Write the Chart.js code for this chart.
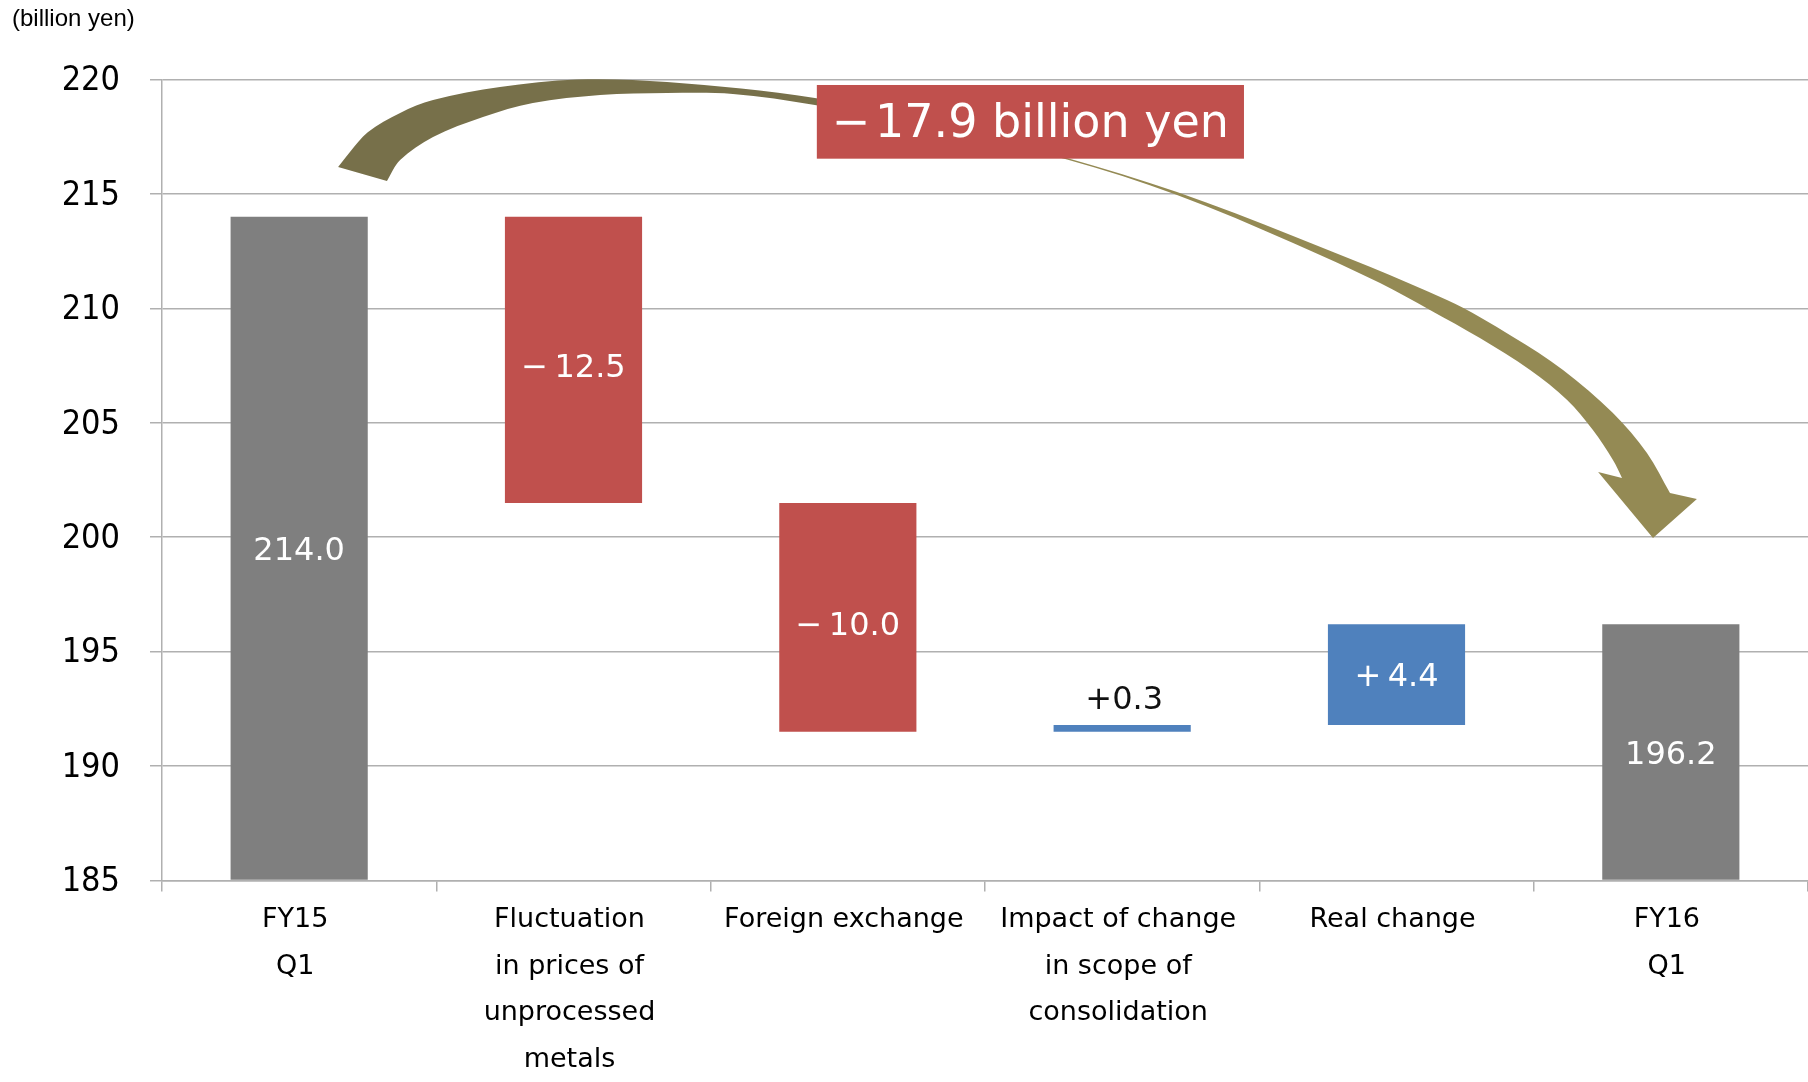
<!DOCTYPE html>
<html><head><meta charset="utf-8">
<script src="https://cdn.jsdelivr.net/npm/chart.js@4.4.1/dist/chart.umd.min.js"></script>
<style>html,body{margin:0;padding:0;background:#fff;}canvas{display:block;}</style>
</head><body>
<canvas id="c" width="1808" height="1082"></canvas>
<script>
// ---- data ----
const categories = [["FY15","Q1"],["Fluctuation","in prices of","unprocessed","metals"],["Foreign exchange"],["Impact of change","in scope of","consolidation"],["Real change"],["FY16","Q1"]];
const barBottoms = [null, 201.5, 191.5, 191.5, 191.8, null];   // null = total bar from axis base
const barTops    = [214.0, 214.0, 201.5, 191.8, 196.2, 196.2];
const valueLabels = ["214.0", "\u2212\u200912.5", "\u2212\u200910.0", "+0.3", "+\u20094.4", "196.2"];
const yMin = 185, yMax = 220, yStep = 5;
const unitLabel = "(billion yen)";
const totalChangeLabel = "\u2212\u200A17.9 billion yen";

// ---- styles ----
const barColors = ["#7f7f7f","#c0504d","#c0504d","#4f81bd","#4f81bd","#7f7f7f"];
const gridColor = "#b0b0b0";

// arrow geometry in data space [category position, value]
const arrowOuter = [[0.142,216.18],[0.188,216.88],[0.250,217.70],[0.368,218.54],[0.488,219.10],[0.732,219.67],[1.013,220.0],[1.341,219.89],[1.880,219.19],[2.336,218.01],[2.799,216.57],[3.200,215.08],[3.623,213.16],[4.184,210.36],[4.425,208.75],[4.607,207.31],[4.789,205.43],[4.913,203.68],[4.997,201.93]];
const arrowHead = [[5.095,201.67],[4.935,199.97],[4.735,202.85],[4.822,202.59]];
const arrowInner = [[4.822,202.59],[4.789,203.37],[4.716,204.68],[4.622,206.00],[4.487,207.31],[4.304,208.70],[4.122,209.93],[3.940,211.11],[3.623,212.86],[3.200,214.95],[2.799,216.50],[2.336,217.84],[1.880,218.89],[1.581,219.37],[1.341,219.41],[1.097,219.32],[0.852,218.97],[0.670,218.36],[0.488,217.49],[0.368,216.48],[0.320,215.56]];
const boxArea = {x0:1.887, x1:3.444, yTop:219.76, yBottom:216.54};

const barData = barTops.map((t,i)=> barBottoms[i]===null ? t : [barBottoms[i], t]);

// smooth curve through points with length-scaled tangents
function smooth(ctx, pts, move){
  const n = pts.length;
  const d = (a,b)=>Math.hypot(b[0]-a[0], b[1]-a[1]);
  const T = pts.map((p,i)=>{
    if (i===0){ const l=d(pts[0],pts[1]); return [(pts[1][0]-pts[0][0])/l,(pts[1][1]-pts[0][1])/l]; }
    if (i===n-1){ const l=d(pts[n-2],pts[n-1]); return [(pts[n-1][0]-pts[n-2][0])/l,(pts[n-1][1]-pts[n-2][1])/l]; }
    const l = d(pts[i-1],p)+d(p,pts[i+1]);
    return [(pts[i+1][0]-pts[i-1][0])/l,(pts[i+1][1]-pts[i-1][1])/l];
  });
  if (move) ctx.moveTo(pts[0][0], pts[0][1]); else ctx.lineTo(pts[0][0], pts[0][1]);
  for (let i=0;i<n-1;i++){
    const p1=pts[i], p2=pts[i+1], l=d(p1,p2)/3;
    ctx.bezierCurveTo(p1[0]+T[i][0]*l, p1[1]+T[i][1]*l, p2[0]-T[i+1][0]*l, p2[1]-T[i+1][1]*l, p2[0], p2[1]);
  }
}

const labelPlugin = {
  id:'valueLabels',
  afterDatasetsDraw(chart){
    const {ctx, scales:{x,y}} = chart;
    ctx.save();
    ctx.font = '32px "DejaVu Sans", sans-serif';
    ctx.textAlign='center'; ctx.textBaseline='middle';
    barTops.forEach((top,i)=>{
      const low = barBottoms[i]===null ? yMin : barBottoms[i];
      const cx = x.getPixelForValue(i);
      if (top-low < 1){
        ctx.fillStyle='#111';
        ctx.fillText(valueLabels[i], cx+2, y.getPixelForValue(top)-24);
      } else {
        const extra = valueLabels[i].startsWith('\u2212') ? 6 : 0;
        ctx.fillStyle='#fff';
        ctx.fillText(valueLabels[i], cx, y.getPixelForValue((top+low)/2)+3+extra);
      }
    });
    ctx.restore();
  }
};

const decoPlugin = {
  id:'deco',
  afterDraw(chart){
    const {ctx, scales:{x,y}} = chart;
    const P = p => [x.getPixelForValue(p[0]), y.getPixelForValue(p[1])];
    ctx.save();
    // arrow
    const outer = arrowOuter.map(P), inner = arrowInner.map(P), head = arrowHead.map(P);
    const g = ctx.createLinearGradient(x.getPixelForValue(1.9),0,x.getPixelForValue(2.8),0);
    g.addColorStop(0,'#77704a'); g.addColorStop(1,'#948a54');
    ctx.beginPath();
    smooth(ctx, outer, true);
    head.forEach(p=>ctx.lineTo(p[0],p[1]));
    smooth(ctx, inner, false);
    ctx.closePath();
    ctx.fillStyle = g; ctx.fill();
    // box
    const bx0 = x.getPixelForValue(boxArea.x0), bx1 = x.getPixelForValue(boxArea.x1);
    const by0 = y.getPixelForValue(boxArea.yTop), by1 = y.getPixelForValue(boxArea.yBottom);
    ctx.fillStyle = '#c0504d';
    ctx.fillRect(bx0, by0, bx1-bx0, by1-by0);
    ctx.fillStyle = '#fff';
    ctx.font = '46px "DejaVu Sans", sans-serif';
    ctx.textAlign='center'; ctx.textBaseline='middle';
    ctx.fillText(totalChangeLabel, (bx0+bx1)/2, (by0+by1)/2+3);
    // unit label
    ctx.fillStyle = '#000';
    ctx.font = '24px "Liberation Sans", Arial, sans-serif';
    ctx.textAlign='left'; ctx.textBaseline='middle';
    ctx.fillText(unitLabel, 12, 19);
    ctx.restore();
  }
};

new Chart(document.getElementById('c').getContext('2d'), {
  type:'bar',
  data:{labels:categories, datasets:[{data:barData, backgroundColor:barColors, borderWidth:0,
        barPercentage:1, categoryPercentage:0.5, base:yMin}]},
  options:{
    responsive:false, animation:false, devicePixelRatio:1,
    layout:{padding:{top:79.5, right:0, left:0, bottom:0}},
    plugins:{legend:{display:false}, tooltip:{enabled:false}},
    scales:{
      x:{
        grid:{display:true, drawOnChartArea:false, drawTicks:true, tickLength:11, color:gridColor, lineWidth:1.5, offset:true},
        border:{display:true, color:gridColor, width:1.5},
        ticks:{font:{family:'"DejaVu Sans", sans-serif', size:27, lineHeight:1.73}, color:'#000', padding:5, maxRotation:0, autoSkip:false, labelOffset:-4},
        afterFit(s){ s.height = 201.5; }
      },
      y:{
        min:yMin, max:yMax,
        ticks:{stepSize:yStep, font:{family:'"DejaVu Sans Condensed", "Open Sans", sans-serif', size:34}, color:'#000', padding:30, labelOffset:2},
        grid:{color:gridColor, lineWidth:1.5, tickLength:12},
        border:{color:gridColor, width:1.5},
        afterFit(s){ s.width = 162; }
      }
    }
  },
  plugins:[labelPlugin, decoPlugin]
});
</script>
</body></html>
